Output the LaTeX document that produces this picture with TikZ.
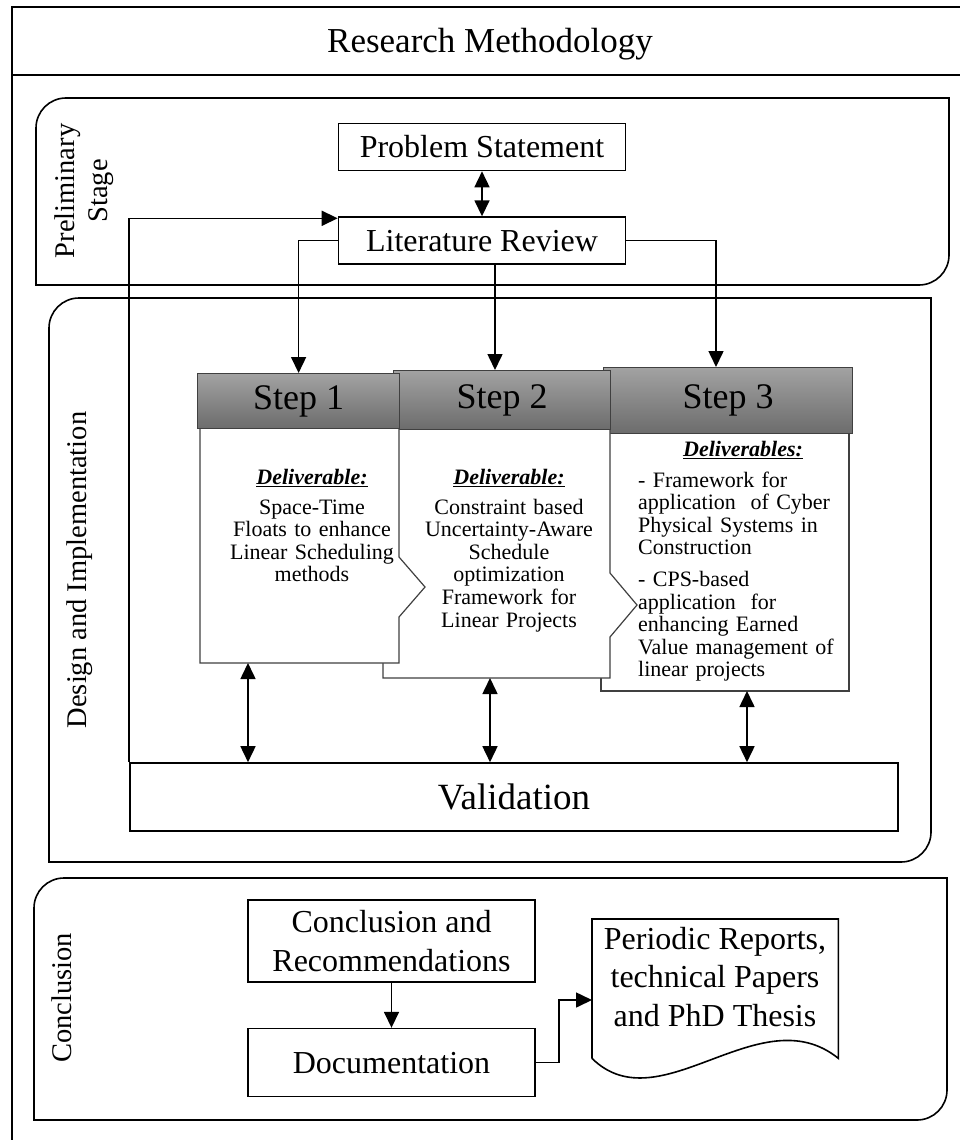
\documentclass[tikz,border=0pt]{standalone}
\usepackage{fontspec}
\setmainfont{Liberation Serif}
\usetikzlibrary{arrows.meta,positioning}
\definecolor{stepline}{RGB}{64,64,64}
\definecolor{headtop}{RGB}{162,162,162}
\definecolor{headbot}{RGB}{108,108,108}
\newcommand\titlesz{\fontsize{35}{40}\selectfont}
\newcommand\boxsz{\fontsize{32}{38.5}\selectfont}
\newcommand\stepsz{\fontsize{36}{40}\selectfont}
\newcommand\delsz{\fontsize{22}{22.6}\selectfont}
\newcommand\stagesz{\fontsize{28.5}{33}\selectfont}
\newcommand\validsz{\fontsize{37}{42}\selectfont}
\newcommand\delhead[1]{\underline{\textbf{\textit{#1}}}}
\tikzset{
    %Define standard arrow tip
    >={Triangle[length=16pt,width=15pt]},
    %Define style for boxes
    block/.style={
           rectangle,
           draw=black, line width=1.6pt,
           minimum width=287pt,
           minimum height=47pt,
           font=\boxsz,
           align=center},
    stephead/.style={
           rectangle,
           draw=stepline, line width=1.2pt,
           top color=headtop, bottom color=headbot,
           font=\stepsz,
           text height=24pt, text depth=8pt,
           inner sep=0pt,
           anchor=north west},
    stepbody/.style={
           draw=stepline, line width=1.2pt,
           fill=white},
    deliv/.style={
           font=\delsz,
           inner sep=0pt,
           anchor=north,
           align=center},
    stagelbl/.style={
           font=\stagesz,
           rotate=90,
           inner sep=0pt,
           align=center},
    stage/.style={draw=black, line width=1.6pt},
    frame/.style={draw=black, line width=2pt},
    % Define arrow style
    imply/.style={
           ->,
           line width=1.6pt},
    both/.style={
           <->,
           line width=1.6pt},
}
\begin{document}
\begin{tikzpicture}[x=1pt, y=-1pt, node distance=45pt]
\useasboundingbox (0,0) rectangle (959,1140);
 %frame
    \draw[frame] (970,1150) -- (970,7) -- (12,7) -- (12,1150);
    \draw[frame] (12,75) -- (970,75);
    \node[font=\titlesz] (title) at (490,44) {Research Methodology};
 %stages
    \draw[stage] (36,190) [rounded corners=30pt] -- (36,98) -- (500,98) [sharp corners] -- (949,98) -- (949,190) [rounded corners=30pt] -- (949,285) -- (500,285) [sharp corners] -- (36,285) -- cycle;
    \draw[stage] (49,580) [rounded corners=30pt] -- (49,298) -- (500,298) [sharp corners] -- (931,298) -- (931,580) [rounded corners=30pt] -- (931,862) -- (500,862) [sharp corners] -- (49,862) -- cycle;
    \draw[stage] (34,1000) [rounded corners=30pt] -- (34,878) -- (500,878) [sharp corners] -- (947,878) -- (947,1000) [rounded corners=30pt] -- (947,1120) -- (500,1120) [sharp corners] -- (34,1120) -- cycle;
    \node[stagelbl] (prelbl) at (84,191) {Preliminary\\Stage};
    \node[stagelbl] (deslbl) at (80,570) {Design and Implementation};
    \node[stagelbl] (conlbl) at (62,998) {Conclusion};
 %nodes
    \node[block] (prob) at (482,147) {Problem Statement};
    \node[block, below=of prob] (lr) {Literature Review};
    % step 3
    \draw[stepbody] (601,433) -- (849,433) -- (849,691) -- (601,691) -- cycle;
    \node[stephead, minimum width=249pt, minimum height=66pt] (s3head) at (603,367) {Step 3};
    % step 2
    \draw[stepbody] (383,428) -- (610,428) -- (610,573) -- (637,605) -- (610,637) -- (610,678) -- (383,678) -- cycle;
    \node[stephead, minimum width=217pt, minimum height=59pt] (s2head) at (393,370) {Step 2};
    % step 1
    \draw[stepbody] (200,428) -- (399,428) -- (399,557) -- (425,587) -- (399,617) -- (399,663) -- (200,663) -- cycle;
    \node[stephead, minimum width=202pt, minimum height=55pt] (s1head) at (197,373) {Step 1};
    \node[deliv, text width=200pt] (s1text) at (312,469) {\delhead{Deliverable:}\\[7pt]
        Space-Time\\ Floats to enhance\\ Linear Scheduling\\ methods};
    \node[deliv, text width=210pt] (s2text) at (509,469) {\delhead{Deliverable:}\\[7pt]
        Constraint based\\ Uncertainty-Aware\\ Schedule\\ optimization\\ Framework for\\ Linear Projects};
    \node[deliv, text width=205pt, align=left, anchor=north west] (s3text) at (638,441) {\hspace*{45pt}\delhead{Deliverables:}\\[8pt]
        - Framework for\\ application\ \ of Cyber\\ Physical Systems in\\ Construction\\[9pt]
        - CPS-based\\ application\ \ for\\ enhancing Earned\\ Value management of\\ linear projects};
    \node[block, minimum width=768pt, minimum height=68pt, font=\validsz] (valid) at (514,797) {Validation};
    \coordinate (s1bot) at (248,663);
    \coordinate (s2bot) at (490,678);
    \coordinate (s3bot) at (747,691);
    \coordinate (a2) at (495,0);
    \coordinate (a3) at (716,0);
    % conclusion
    \node[block, minimum height=82pt] (concl) at (391.5,941) {Conclusion and\\Recommendations};
    \node[block, minimum height=68pt, below=of concl] (docu) {Documentation};
    \node[minimum width=246pt, minimum height=139pt, inner sep=0pt, anchor=north west] (docs) at (592,919) {};
    \draw[stage] (docs.south west) -- (docs.north west) -- (docs.north east) -- (docs.south east) .. controls (760,995) and (660,1125) .. (docs.south west);
    \node[font=\boxsz, align=center] (doctext) at (715,977) {Periodic Reports,\\technical Papers\\and PhD Thesis};
    \coordinate (docin) at (592,1000);
 %edges
    \draw[both] (prob) -- (lr);
    \draw[imply] (lr.west) -| (s1head.north);
    \draw[imply] (lr.south -| a2) -- (s2head.north -| a2);
    \draw[imply] (lr.east) -| (s3head.north -| a3);
    \draw[imply] (valid.north west) |- ([yshift=-2pt]lr.north west);
    \draw[both] (s1bot) -- (valid.north -| s1bot);
    \draw[both] (s2bot) -- (valid.north -| s2bot);
    \draw[both] (s3bot) -- (valid.north -| s3bot);
    \draw[imply] (concl) -- (docu);
    \draw[imply] (docu.east) -- ++(23,0) |- (docin);
\end{tikzpicture}
\end{document}
